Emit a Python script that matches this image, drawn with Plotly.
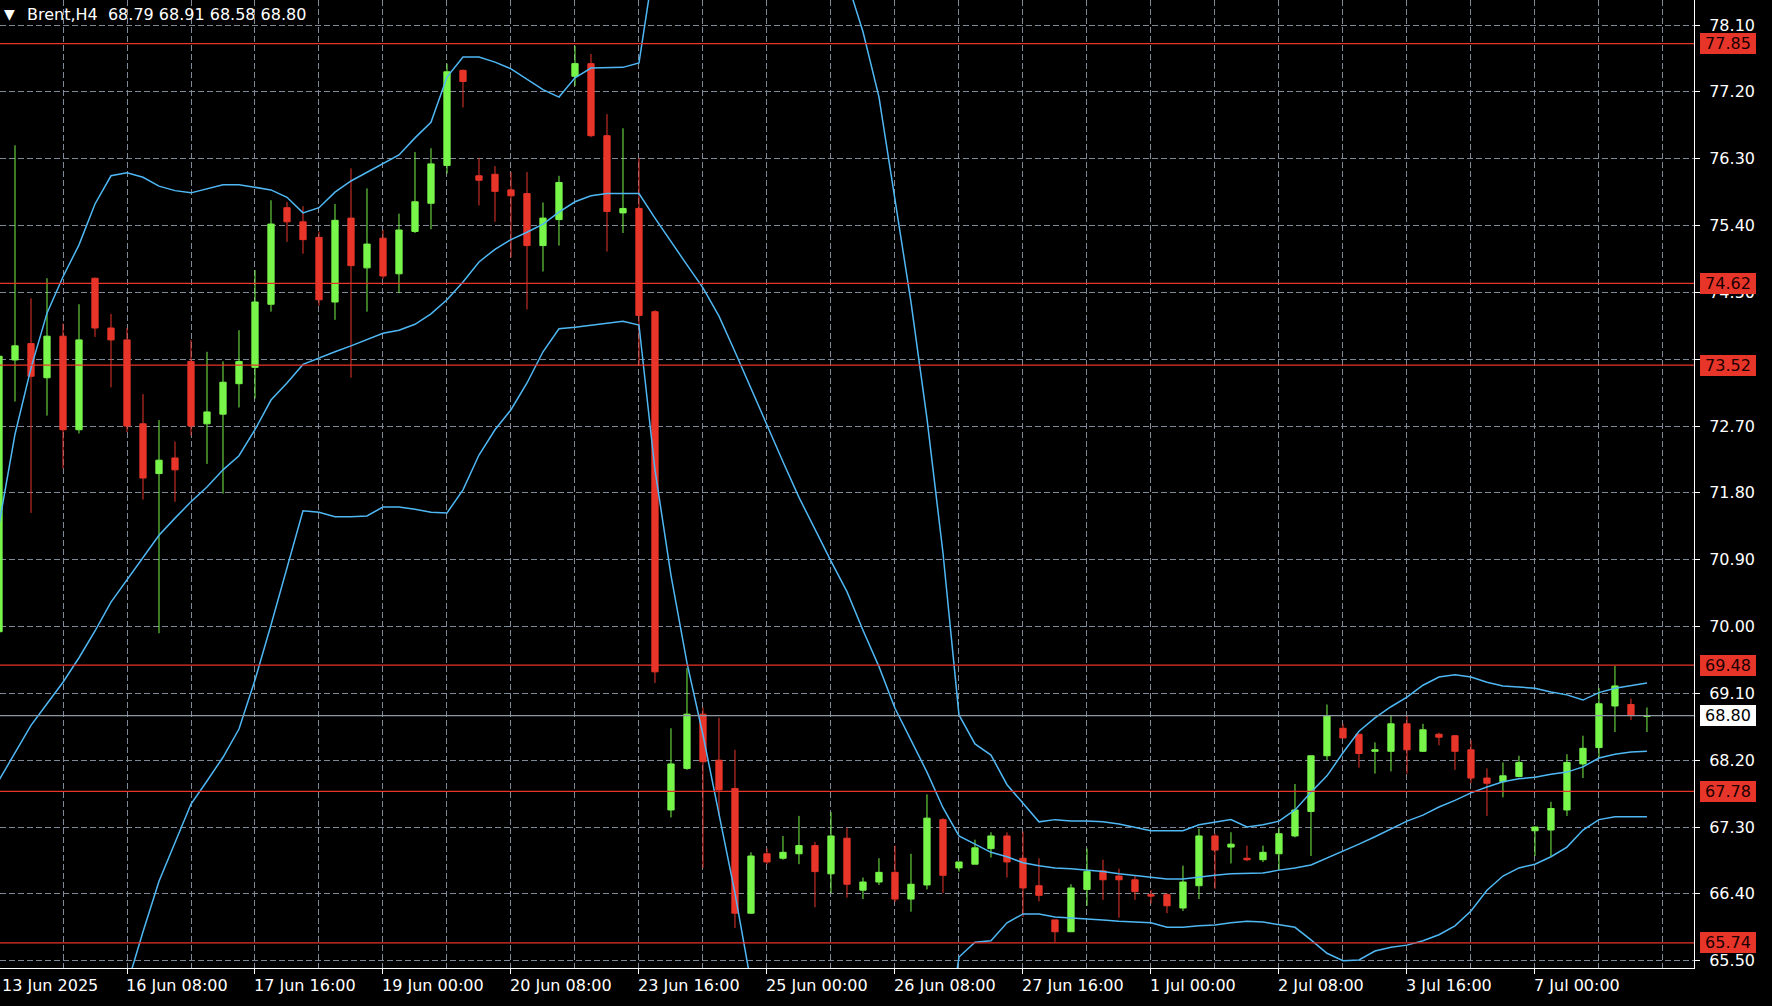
import plotly.graph_objects as go

# ---- data ----
opens = [69.93, 73.59, 73.81, 73.35, 73.91, 72.65, 74.69, 74.02, 73.86, 72.73,
         72.06, 72.27, 73.57, 72.73, 72.86, 73.27, 73.49, 74.34, 75.64, 75.45,
         75.24, 74.37, 75.50, 74.83, 75.23, 74.75, 75.32, 75.70, 76.21, 77.49,
         76.07, 76.09, 75.88, 75.83, 75.13, 75.48, 77.41, 77.58, 76.61, 75.57,
         75.63, 74.24, 67.53, 68.09, 68.82, 68.20, 67.82, 66.14, 66.94, 66.88,
         66.94, 67.05, 66.67, 67.15, 66.45, 66.56, 66.69, 66.33, 66.52, 67.40,
         66.75, 66.80, 67.01, 67.18, 66.88, 66.51, 66.05, 65.89, 66.46, 66.71,
         66.64, 66.59, 66.39, 66.39, 66.21, 66.51, 67.18, 67.03, 66.88, 66.86,
         66.94, 67.18, 67.51, 68.26, 68.63, 68.55, 68.32, 68.32, 68.69, 68.32,
         68.55, 68.53, 68.34, 67.96, 67.91, 67.98, 67.25, 67.26, 67.53, 68.15,
         68.37, 68.93, 68.95, 68.79]
highs = [73.70, 76.48, 74.42, 74.69, 74.08, 74.34, 74.70, 74.21, 74.02, 73.13,
         72.78, 72.49, 73.86, 73.70, 73.57, 73.99, 74.80, 75.74, 75.72, 75.66,
         75.32, 75.69, 76.17, 75.90, 75.34, 75.56, 76.39, 76.44, 77.58, 77.50,
         76.31, 76.20, 76.12, 76.12, 75.71, 76.07, 77.82, 77.71, 76.90, 76.71,
         76.31, 74.26, 68.63, 69.44, 68.91, 68.77, 68.34, 66.96, 67.01, 67.18,
         67.45, 67.10, 67.50, 67.29, 66.62, 66.88, 67.05, 66.94, 67.74, 67.42,
         66.83, 67.13, 67.23, 67.23, 67.24, 66.88, 66.05, 66.53, 67.01, 66.86,
         66.74, 66.64, 66.45, 66.41, 66.78, 67.28, 67.21, 67.23, 67.05, 67.05,
         67.28, 67.88, 68.26, 68.95, 68.69, 68.55, 68.44, 68.81, 68.81, 68.69,
         68.57, 68.54, 68.47, 68.09, 68.17, 68.26, 67.31, 67.64, 68.28, 68.53,
         69.17, 69.47, 69.03, 68.91]
lows = [69.88, 73.03, 71.53, 72.84, 72.13, 72.60, 73.90, 73.22, 72.62, 71.71,
        69.91, 71.68, 72.57, 72.19, 71.79, 72.95, 73.07, 74.24, 75.18, 75.02,
        74.32, 74.13, 73.35, 74.24, 74.68, 74.49, 75.30, 75.35, 76.10, 76.99,
        75.67, 75.45, 74.97, 74.27, 74.78, 75.13, 77.28, 76.59, 75.05, 75.30,
        73.52, 69.24, 67.43, 68.07, 66.75, 67.46, 65.94, 66.13, 66.80, 66.86,
        66.80, 66.22, 66.41, 66.35, 66.33, 66.52, 66.29, 66.16, 66.46, 66.41,
        66.70, 66.80, 66.89, 66.62, 66.09, 66.30, 65.75, 65.89, 66.24, 66.32,
        66.08, 66.32, 66.27, 66.14, 66.17, 66.33, 66.47, 66.81, 66.84, 66.83,
        66.72, 67.16, 66.91, 68.20, 68.50, 68.10, 68.02, 68.05, 68.02, 68.31,
        68.40, 68.07, 67.89, 67.45, 67.70, 67.97, 66.91, 66.91, 67.45, 67.96,
        68.23, 68.58, 68.74, 68.58]
closes = [73.64, 73.78, 73.37, 73.91, 72.65, 73.86, 74.02, 73.86, 72.70, 72.00,
          72.24, 72.11, 72.70, 72.89, 73.29, 73.57, 74.37, 75.42, 75.45, 75.21,
          74.40, 75.47, 74.86, 75.15, 74.72, 75.34, 75.72, 76.23, 77.47, 77.34,
          76.01, 75.86, 75.80, 75.13, 75.50, 75.98, 77.58, 76.61, 75.59, 75.63,
          74.19, 69.39, 68.15, 68.82, 68.18, 67.80, 66.14, 66.91, 66.83, 66.96,
          67.05, 66.70, 67.18, 66.53, 66.56, 66.69, 66.33, 66.53, 67.42, 66.65,
          66.83, 67.02, 67.18, 66.83, 66.48, 66.38, 65.89, 66.48, 66.70, 66.59,
          66.59, 66.43, 66.37, 66.24, 66.56, 67.18, 66.99, 67.07, 66.86, 66.96,
          67.21, 67.53, 68.26, 68.80, 68.50, 68.29, 68.34, 68.69, 68.34, 68.61,
          68.51, 68.32, 67.96, 67.89, 67.99, 68.17, 67.30, 67.55, 68.17, 68.36,
          68.96, 69.20, 68.80, 68.80]

bb_upper = [71.37, 72.59, 73.48, 74.22, 74.71, 75.14, 75.69, 76.07, 76.11, 76.05,
            75.93, 75.87, 75.84, 75.89, 75.95, 75.95, 75.92, 75.88, 75.78, 75.57,
            75.64, 75.85, 76.00, 76.12, 76.24, 76.35, 76.58, 76.79, 77.40, 77.67,
            77.67, 77.60, 77.51, 77.37, 77.23, 77.13, 77.39, 77.52, 77.53, 77.53,
            77.59, 79.00, 79.66, 80.23, 80.58, 80.87, 80.98, 81.20, 81.26, 81.06,
            80.66, 80.05, 79.38, 78.71, 78.01, 77.13, 75.78, 74.37, 72.80, 70.99,
            68.81, 68.42, 68.27, 67.87, 67.62, 67.37, 67.40, 67.38, 67.38, 67.37,
            67.34, 67.30, 67.25, 67.25, 67.25, 67.33, 67.37, 67.40, 67.30, 67.33,
            67.38, 67.53, 67.77, 67.99, 68.30, 68.59, 68.77, 68.92, 69.05, 69.21,
            69.32, 69.35, 69.32, 69.25, 69.20, 69.19, 69.17, 69.12, 69.08, 69.01,
            69.11, 69.17, 69.21, 69.24]
bb_middle = [67.93, 68.31, 68.67, 68.96, 69.25, 69.58, 69.94, 70.33, 70.63, 70.92,
             71.23, 71.46, 71.68, 71.88, 72.11, 72.30, 72.65, 73.05, 73.28, 73.53,
             73.62, 73.70, 73.78, 73.86, 73.95, 73.99, 74.07, 74.21, 74.40, 74.64,
             74.91, 75.08, 75.21, 75.31, 75.42, 75.58, 75.72, 75.80, 75.83, 75.83,
             75.83, 75.50, 75.18, 74.87, 74.56, 74.18, 73.70, 73.20, 72.71, 72.22,
             71.74, 71.30, 70.88, 70.47, 69.95, 69.46, 68.90, 68.47, 68.04, 67.56,
             67.18, 67.07, 66.96, 66.90, 66.82, 66.78, 66.75, 66.74, 66.72, 66.70,
             66.67, 66.65, 66.63, 66.60, 66.60, 66.63, 66.65, 66.67, 66.68, 66.68,
             66.72, 66.75, 66.79, 66.88, 66.98, 67.07, 67.17, 67.27, 67.38, 67.46,
             67.57, 67.66, 67.76, 67.84, 67.91, 67.95, 67.97, 68.01, 68.04, 68.11,
             68.23, 68.28, 68.31, 68.32]
bb_lower = [64.50, 64.03, 63.87, 63.69, 63.80, 64.02, 64.19, 64.59, 65.17, 65.89,
            66.57, 67.09, 67.61, 67.92, 68.24, 68.62, 69.28, 70.02, 70.79, 71.56,
            71.54, 71.48, 71.48, 71.49, 71.61, 71.61, 71.58, 71.54, 71.53, 71.84,
            72.31, 72.65, 72.92, 73.28, 73.70, 74.01, 74.03, 74.06, 74.09, 74.11,
            74.06, 72.11, 70.69, 69.51, 68.54, 67.49, 66.41, 65.20, 64.16, 63.37,
            62.83, 62.55, 62.39, 62.22, 61.90, 61.78, 62.02, 62.57, 63.29, 64.12,
            65.55, 65.75, 65.77, 66.01, 66.13, 66.13, 66.09, 66.08, 66.06, 66.05,
            66.03, 66.02, 66.01, 65.95, 65.95, 65.97, 65.98, 66.01, 66.03, 66.02,
            65.99, 65.95, 65.78, 65.60, 65.50, 65.51, 65.63, 65.68, 65.71, 65.77,
            65.85, 65.97, 66.17, 66.45, 66.64, 66.75, 66.80, 66.90, 67.03, 67.26,
            67.40, 67.44, 67.44, 67.44]

red_levels = [77.85, 74.62, 73.52, 69.48, 67.78, 65.74]
current_price = 68.80

price_ticks = [65.50, 66.40, 67.30, 68.20, 69.10, 70.00, 70.90, 71.80,
               72.70, 73.60, 74.50, 75.40, 76.30, 77.20, 78.10]
# 73.60 is fully hidden behind the 73.52 level label in the original
price_tick_text = ["65.50", "66.40", "67.30", "68.20", "69.10", "70.00", "70.90", "71.80",
                   "72.70", "", "74.50", "75.40", "76.30", "77.20", "78.10"]
time_tick_idx = [0, 8, 16, 24, 32, 40, 48, 56, 64, 72, 80, 88, 96]
time_tick_text = ["13 Jun 2025", "16 Jun 08:00", "17 Jun 16:00", "19 Jun 00:00",
                  "20 Jun 08:00", "23 Jun 16:00", "25 Jun 00:00", "26 Jun 08:00",
                  "27 Jun 16:00", "1 Jul 00:00", "2 Jul 08:00", "3 Jul 16:00",
                  "7 Jul 00:00"]
title_text = "Brent,H4\u00a0 68.79 68.91 68.58 68.80"

# ---- style ----
GREEN = "#78f54a"
RED = "#e8352a"
BLUE = "#4fb8f4"
GRID = "#7f8a98"
GRAY = "#8c97a3"
FONT = "DejaVu Sans"
X_MIN, X_MAX = 0.0625, 105.94

x = list(range(len(opens)))

fig = go.Figure()
fig.add_trace(go.Candlestick(
    x=x, open=opens, high=highs, low=lows, close=closes,
    increasing=dict(line=dict(color=GREEN, width=1), fillcolor=GREEN),
    decreasing=dict(line=dict(color=RED, width=1), fillcolor=RED),
    whiskerwidth=0, hoverinfo="skip", showlegend=False,
))
for band in (bb_upper, bb_middle, bb_lower):
    fig.add_trace(go.Scatter(x=x, y=band, mode="lines",
                             line=dict(color=BLUE, width=1.5),
                             hoverinfo="skip", showlegend=False))

shapes = []
for lv in red_levels:
    shapes.append(dict(type="line", xref="paper", x0=0, x1=1, yref="y", y0=lv, y1=lv,
                       line=dict(color=RED, width=1.3), layer="above"))
shapes.append(dict(type="line", xref="paper", x0=0, x1=1, yref="y",
                   y0=current_price, y1=current_price,
                   line=dict(color=GRAY, width=1.3), layer="above"))

annotations = []
for lv in red_levels:
    annotations.append(dict(xref="paper", x=1, xanchor="left", xshift=6,
                            yref="y", y=lv, yanchor="middle",
                            text=f"{lv:.2f}", showarrow=False,
                            font=dict(family=FONT, size=16, color="#1a0000"),
                            bgcolor=RED, borderpad=1, borderwidth=0,
                            width=54, height=19, align="center"))
annotations.append(dict(xref="paper", x=1, xanchor="left", xshift=6,
                        yref="y", y=current_price, yanchor="middle",
                        text=f"{current_price:.2f}", showarrow=False,
                        font=dict(family=FONT, size=16, color="#000000"),
                        bgcolor="#ffffff", borderpad=1, borderwidth=0,
                        width=54, height=19, align="center"))
px_per_bar = 1694 / (X_MAX - X_MIN)
for idx, lab in zip(time_tick_idx, time_tick_text):
    xpos = max(idx, X_MIN)
    shift = -3 - (xpos - idx) * px_per_bar
    if idx == 0:
        shift = 0  # keep the first label inside the picture
    annotations.append(dict(xref="x", x=xpos, xanchor="left", xshift=shift,
                            yref="paper", y=0, yanchor="top", yshift=-6,
                            text=lab, showarrow=False,
                            font=dict(family=FONT, size=16, color="#ffffff")))
annotations.append(dict(xref="paper", x=0, xanchor="left", xshift=2,
                        yref="paper", y=1, yanchor="top", yshift=-4,
                        text="\u25bc", showarrow=False,
                        font=dict(family=FONT, size=14, color="#ffffff")))
annotations.append(dict(xref="paper", x=0, xanchor="left", xshift=25,
                        yref="paper", y=1, yanchor="top", yshift=-3,
                        text=title_text, showarrow=False,
                        font=dict(family=FONT, size=16, color="#ffffff")))

fig.update_layout(
    width=1772, height=1006,
    margin=dict(l=0, r=78, t=0, b=38, pad=0),
    paper_bgcolor="#000000", plot_bgcolor="#000000",
    boxgap=0.44,
    shapes=shapes, annotations=annotations,
    font=dict(family=FONT, size=16, color="#ffffff"),
    xaxis=dict(
        range=[X_MIN, X_MAX], rangeslider=dict(visible=False),
        tickmode="array", tickvals=time_tick_idx, showticklabels=False,
        ticks="outside", ticklen=5, tickcolor="#ffffff", tickwidth=1,
        showgrid=True, gridcolor=GRID, griddash="6px,3px", gridwidth=1,
        minor=dict(tickmode="linear", tick0=0, dtick=4, showgrid=True,
                   gridcolor=GRID, griddash="6px,3px", gridwidth=1, ticks=""),
        showline=True, linecolor="#ffffff", linewidth=1,
        zeroline=False, fixedrange=True, automargin=False,
    ),
    yaxis=dict(
        range=[65.402, 78.437], side="right",
        tickmode="array", tickvals=price_ticks, ticktext=price_tick_text,
        ticks="outside", ticklen=5, tickcolor="#ffffff", tickwidth=1,
        ticklabelstandoff=6,
        tickfont=dict(family=FONT, size=16, color="#ffffff"),
        showgrid=True, gridcolor=GRID, griddash="6px,3px", gridwidth=1,
        showline=True, linecolor="#ffffff", linewidth=1,
        zeroline=False, fixedrange=True, automargin=False,
    ),
)

fig.write_html("out.html", config={"displayModeBar": False, "staticPlot": True},
               post_script="document.body.style.margin='0';document.body.style.overflow='hidden';")
